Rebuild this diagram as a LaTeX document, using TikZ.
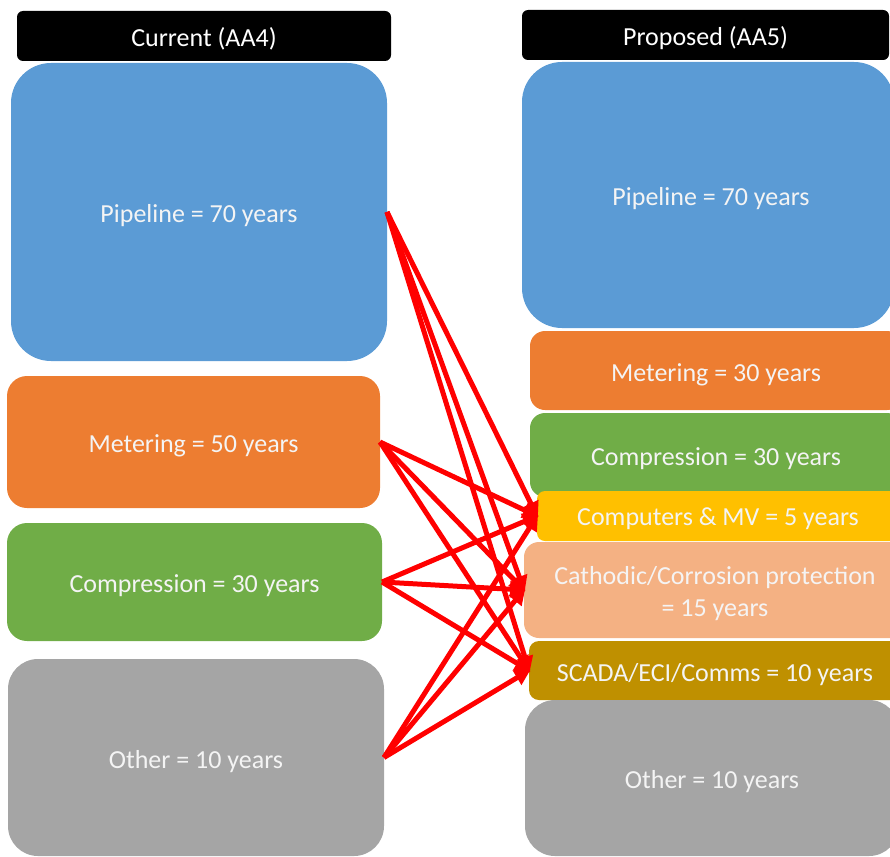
\documentclass[tikz,border=0pt]{standalone}
\usepackage{fontspec}
\setmainfont{Carlito}
\usetikzlibrary{arrows.meta}

\definecolor{pipeblue}{HTML}{5B9BD5}
\definecolor{meterorange}{HTML}{ED7D31}
\definecolor{compgreen}{HTML}{70AD47}
\definecolor{cpugold}{HTML}{FFC000}
\definecolor{cathpeach}{HTML}{F4B183}
\definecolor{scadaochre}{HTML}{BF9000}
\definecolor{othergrey}{HTML}{A5A5A5}
\definecolor{labelwhite}{HTML}{F4F4F4}

\tikzset{
  block/.style={rectangle, inner sep=0pt, outer sep=0pt},
  lbl/.style={text=labelwhite, font=\fontsize{26}{32}\selectfont, align=center,
    inner sep=0pt, yshift=-4pt},
  header/.style={block, fill=black, rounded corners=6pt, minimum height=50pt},
  hlbl/.style={lbl, text=white, yshift=1pt},
  link/.style={draw=red, line width=5pt, line join=round,
    -{Triangle[length=16pt,width=16pt]}, shorten >=-2pt}
}

\begin{document}
\begin{tikzpicture}[x=1pt,y=-1pt]
\useasboundingbox (0,0) rectangle (890,856);
\clip (0,0) rectangle (890,856);

% column headers
\node[header, minimum width=374pt, label={[hlbl]center:Current (AA4)}] (hcur) at (204,36) {};
\node[header, minimum width=367pt, label={[hlbl]center:Proposed (AA5)}] (hprop) at (705.5,35) {};

% current asset lives
\node[block, fill=pipeblue, rounded corners=40pt, minimum width=376pt, minimum height=298pt,
  label={[lbl]center:Pipeline = 70 years}] (lpipe) at (199,212) {};
\node[block, fill=meterorange, rounded corners=20pt, minimum width=373pt, minimum height=132pt,
  label={[lbl]center:Metering = 50 years}] (lmeter) at (193.5,442) {};
\node[block, fill=compgreen, rounded corners=20pt, minimum width=375pt, minimum height=118pt,
  label={[lbl]center:Compression = 30 years}] (lcomp) at (194.5,582) {};
\node[block, fill=othergrey, rounded corners=30pt, minimum width=376pt, minimum height=197pt,
  label={[lbl]center:Other = 10 years}] (lother) at (196,757.5) {};

% proposed asset lives
\node[block, fill=pipeblue, rounded corners=40pt, minimum width=372pt, minimum height=266pt,
  label={[lbl, xshift=3pt]center:Pipeline = 70 years}] (rpipe) at (708,195) {};
\node[block, fill=meterorange, rounded corners=15pt, minimum width=372pt, minimum height=79pt,
  label={[lbl]center:Metering = 30 years}] (rmeter) at (716,370.5) {};
\node[block, fill=compgreen, rounded corners=15pt, minimum width=372pt, minimum height=84pt,
  label={[lbl]center:Compression = 30 years}] (rcomp) at (716,455) {};
\node[block, fill=cpugold, rounded corners=8pt, minimum width=362pt, minimum height=50pt,
  label={[lbl, yshift=1pt]center:Computers \& MV = 5 years}] (rcpu) at (718,516) {};
\node[block, fill=cathpeach, rounded corners=15pt, minimum width=382pt, minimum height=96pt,
  label={[lbl]center:Cathodic/Corrosion protection\\= 15 years}] (rcath) at (715,590) {};
\node[block, fill=scadaochre, rounded corners=10pt, minimum width=372pt, minimum height=59pt,
  label={[lbl]center:SCADA/ECI/Comms = 10 years}] (rscada) at (715,670.5) {};
\node[block, fill=othergrey, rounded corners=30pt, minimum width=374pt, minimum height=156pt,
  label={[lbl]center:Other = 10 years}] (rother) at (712,778) {};

% reallocation links
\foreach \src in {lpipe, lmeter, lcomp, lother} {
  \foreach \dst in {rcpu, rcath, rscada} {
    \draw[link] (\src.east) -- (\dst.west);
  }
}
\end{tikzpicture}
\end{document}
